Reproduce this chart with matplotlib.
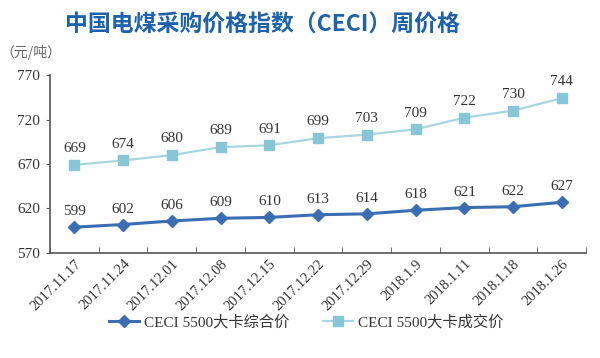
import matplotlib.pyplot as plt
import numpy as np

# Dados
dates = ['2017.11.17', '2017.11.24', '2017.12.01', '2017.12.08', '2017.12.15',
         '2017.12.22', '2017.12.29', '2018.1.9', '2018.1.11', '2018.1.18', '2018.1.26']
composite = [599, 602, 606, 609, 610, 613, 614, 618, 621, 622, 627]
deal = [669, 674, 680, 689, 691, 699, 703, 709, 722, 730, 744]

serif = ['Liberation Serif', 'Noto Sans CJK SC']
cjk = ['Noto Sans CJK SC', 'DejaVu Sans']

fig = plt.figure(figsize=(6, 3.58), dpi=100)
ax = fig.add_axes([0.0833, 0.2933, 0.8937, 0.4972])

x = np.arange(len(dates))
ax.plot(x, composite, color='#3b6db3', lw=2.2, marker='D', ms=6,
        mfc='#3b6db3', mec='#3b6db3', label='CECI 5500大卡综合价')
ax.plot(x, deal, color='#a8d6de', lw=1.6, marker='s', ms=7.5,
        mfc='#86c6d6', mec='#86c6d6', label='CECI 5500大卡成交价')

for xi, v in zip(x, composite):
    ax.text(xi, v + 10, str(v), ha='center', va='bottom', fontsize=11,
            family=serif, color='#333333')
for xi, v in zip(x, deal):
    ax.text(xi, v + 11, str(v), ha='center', va='bottom', fontsize=11,
            family=serif, color='#333333')

ax.set_xlim(-0.5, len(dates) - 0.5)
ax.set_ylim(570, 770)
ax.set_yticks([570, 620, 670, 720, 770])
ax.set_xticks(x)
ax.set_xticklabels(dates, rotation=45, ha='right', rotation_mode='anchor',
                   family=serif, fontsize=10.5, color='#333333')
for lbl in ax.get_yticklabels():
    lbl.set_family(serif)
    lbl.set_fontsize(11)
    lbl.set_color('#333333')

# marcas entre categorias no eixo x
ax.set_xticks(np.arange(-0.5, len(dates)), minor=True)
ax.tick_params(axis='x', which='major', length=0, pad=3)
ax.tick_params(axis='x', which='minor', length=4, direction='in', color='#555555')
ax.tick_params(axis='y', length=3, direction='out', color='#555555', pad=4)

for s in ['top', 'right']:
    ax.spines[s].set_visible(False)
for s in ['left', 'bottom']:
    ax.spines[s].set_color('#555555')
    ax.spines[s].set_linewidth(1.2)

fig.text(0.437, 0.93, '中国电煤采购价格指数（CECI）周价格', ha='center', va='center',
         fontsize=16.5, fontweight='bold', color='#1d62aa', family=cjk)
fig.text(0.0, 0.853, '（元/吨）', ha='left', va='center', fontsize=10,
         color='#666666', family=cjk)

leg = fig.legend(loc='center', bbox_to_anchor=(0.51, 0.1), ncol=2, frameon=False,
                 prop={'family': serif, 'size': 11}, handlelength=2.0,
                 handletextpad=0.3, columnspacing=2.2, labelcolor='#333333')

fig.savefig('out.png', dpi=100)
